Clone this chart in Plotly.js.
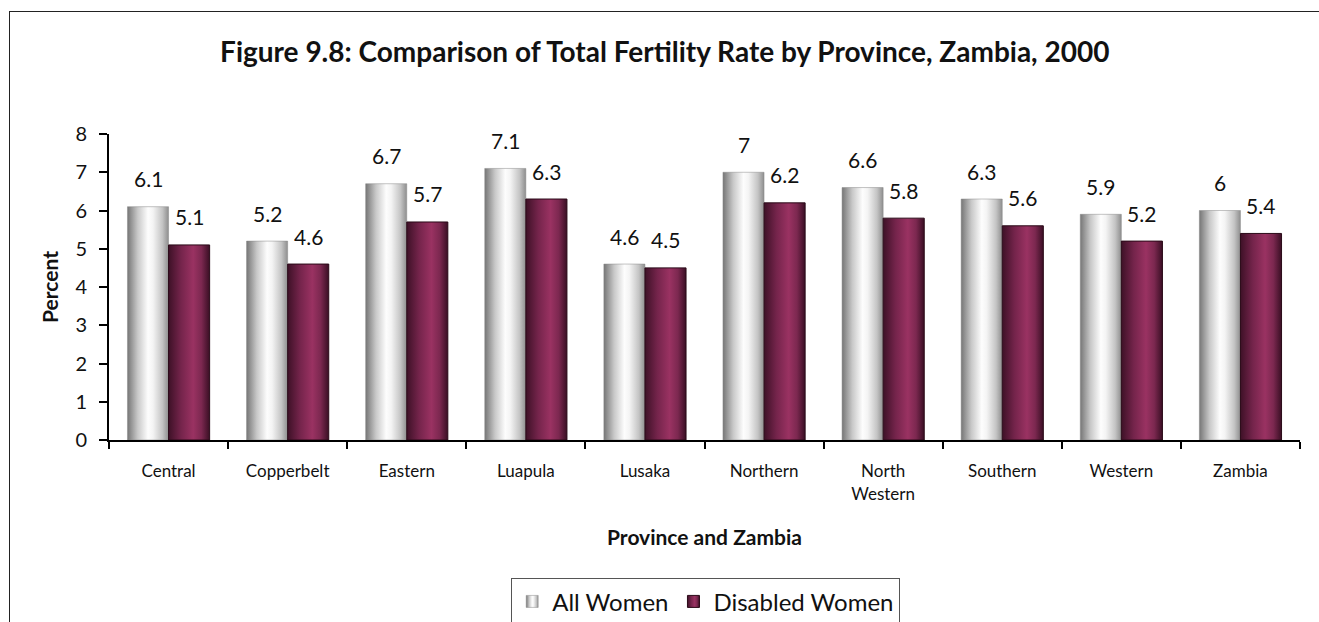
<!DOCTYPE html>
<html>
<head>
<meta charset="utf-8">
<script src="https://cdn.plot.ly/plotly-3.0.1.min.js"></script>
<style>
  html, body { margin: 0; padding: 0; background: #fff; }
  #wrap { position: relative; width: 1319px; height: 622px; overflow: hidden; }
  #frame { position: absolute; left: 9px; top: 11px; width: 1400px; height: 700px;
           border-left: 1px solid #222; border-top: 1px solid #222; }
  #chart { position: absolute; left: 0; top: 0; width: 1319px; height: 622px; }
</style>
</head>
<body>
<div id="wrap">
  <div id="frame"></div>
  <div id="chart"></div>
</div>
<script>
// ---- data ----
const provinces = ["Central", "Copperbelt", "Eastern", "Luapula", "Lusaka", "Northern",
                   "North<br>Western", "Southern", "Western", "Zambia"];
const allWomen = [6.1, 5.2, 6.7, 7.1, 4.6, 7.0, 6.6, 6.3, 5.9, 6.0];
const disabledWomen = [5.1, 4.6, 5.7, 6.3, 4.5, 6.2, 5.8, 5.6, 5.2, 5.4];
const yTicks = [0, 1, 2, 3, 4, 5, 6, 7, 8];
const seriesNames = ["All Women", "Disabled Women"];

const FONT = "Lato, 'Open Sans', sans-serif";

const traces = [
  { type: "bar", name: seriesNames[0], x: provinces, y: allWomen,
    marker: { color: "#dddddd", line: { color: "#888888", width: 0.5 } }, hoverinfo: "skip" },
  { type: "bar", name: seriesNames[1], x: provinces, y: disabledWomen,
    marker: { color: "#8e2c5a", line: { color: "#2a0a18", width: 1 } }, hoverinfo: "skip" }
];

const fmt = v => String(v);
const annotations = [];
provinces.forEach((p, i) => {
  annotations.push({ x: p, y: allWomen[i], xref: "x", yref: "y", text: fmt(allWomen[i]),
    showarrow: false, xshift: -20.5, yshift: 28, yanchor: "middle",
    font: { family: FONT, size: 21, color: "#111" } });
  annotations.push({ x: p, y: disabledWomen[i], xref: "x", yref: "y", text: fmt(disabledWomen[i]),
    showarrow: false, xshift: 20.5, yshift: 28, yanchor: "middle",
    font: { family: FONT, size: 21, color: "#111" } });
});

const layout = {
  width: 1319, height: 622,
  margin: { l: 109, r: 19, t: 134, b: 182, autoexpand: false },
  paper_bgcolor: "rgba(0,0,0,0)", plot_bgcolor: "rgba(0,0,0,0)",
  font: { family: FONT, color: "#111" },
  title: { text: "<b>Figure 9.8: Comparison of Total Fertility Rate by Province, Zambia, 2000</b>",
           font: { family: FONT, size: 28, color: "#111" },
           xref: "container", x: 0.504, xanchor: "center",
           yref: "container", y: 1 - 52 / 622, yanchor: "middle" },
  barmode: "group", bargap: 0.31, bargroupgap: 0,
  showlegend: true,
  legend: { orientation: "h", x: 0.501, xanchor: "center", y: -0.452, yanchor: "top",
            bordercolor: "#555", borderwidth: 1, font: { family: FONT, size: 24, color: "#111" },
            itemwidth: 30, traceorder: "normal" },
  xaxis: { type: "category", showline: true, linecolor: "#000", linewidth: 2,
           ticks: "outside", tickson: "boundaries", ticklen: 7, tickwidth: 2, tickcolor: "#000",
           tickfont: { family: FONT, size: 17, color: "#111" }, ticklabelstandoff: 15,
           showgrid: false, zeroline: false,
           title: { text: "<b>Province and Zambia</b>", font: { family: FONT, size: 21, color: "#111" }, standoff: 28 } },
  yaxis: { range: [0, 8], tickvals: yTicks, showline: true, linecolor: "#000", linewidth: 2,
           ticks: "outside", ticklen: 8, tickwidth: 2, tickcolor: "#000",
           tickfont: { family: FONT, size: 20, color: "#111" }, ticklabelstandoff: 8,
           showgrid: false, zeroline: false,
           title: { text: "<b>Percent</b>", font: { family: FONT, size: 21, color: "#111" }, standoff: 11 } },
  annotations: annotations
};

function addGradients(gd) {
  const svg = gd.querySelector("svg.main-svg");
  const ns = "http://www.w3.org/2000/svg";
  let defs = svg.querySelector("defs");
  if (!defs) { defs = document.createElementNS(ns, "defs"); svg.insertBefore(defs, svg.firstChild); }
  function grad(id, stops) {
    const g = document.createElementNS(ns, "linearGradient");
    g.setAttribute("id", id);
    g.setAttribute("x1", "0"); g.setAttribute("y1", "0");
    g.setAttribute("x2", "1"); g.setAttribute("y2", "0");
    stops.forEach(s => {
      const st = document.createElementNS(ns, "stop");
      st.setAttribute("offset", s[0]); st.setAttribute("stop-color", s[1]);
      g.appendChild(st);
    });
    defs.appendChild(g);
  }
  grad("gradGrey", [["0", "#767676"], ["0.25", "#c8c8c8"], ["0.5", "#fdfdfd"], ["0.62", "#f4f4f4"], ["0.85", "#c4c4c4"], ["1", "#8e8e8e"]]);
  grad("gradMaroon", [["0", "#3e1127"], ["0.3", "#74244b"], ["0.6", "#9a3262"], ["0.8", "#7c2850"], ["1", "#3a0f24"]]);
  const ids = ["gradGrey", "gradMaroon"];
  gd.querySelectorAll(".barlayer .trace").forEach((t, i) => {
    t.querySelectorAll("path").forEach(p => { p.style.fill = "url(#" + ids[i] + ")"; });
  });
  gd.querySelectorAll(".legend .traces").forEach((t, i) => {
    t.querySelectorAll(".legendpoints path").forEach(p => { p.style.fill = "url(#" + ids[i] + ")"; });
  });
}

Plotly.newPlot("chart", traces, layout, { staticPlot: true, displayModeBar: false })
  .then(gd => addGradients(gd));
</script>
</body>
</html>
